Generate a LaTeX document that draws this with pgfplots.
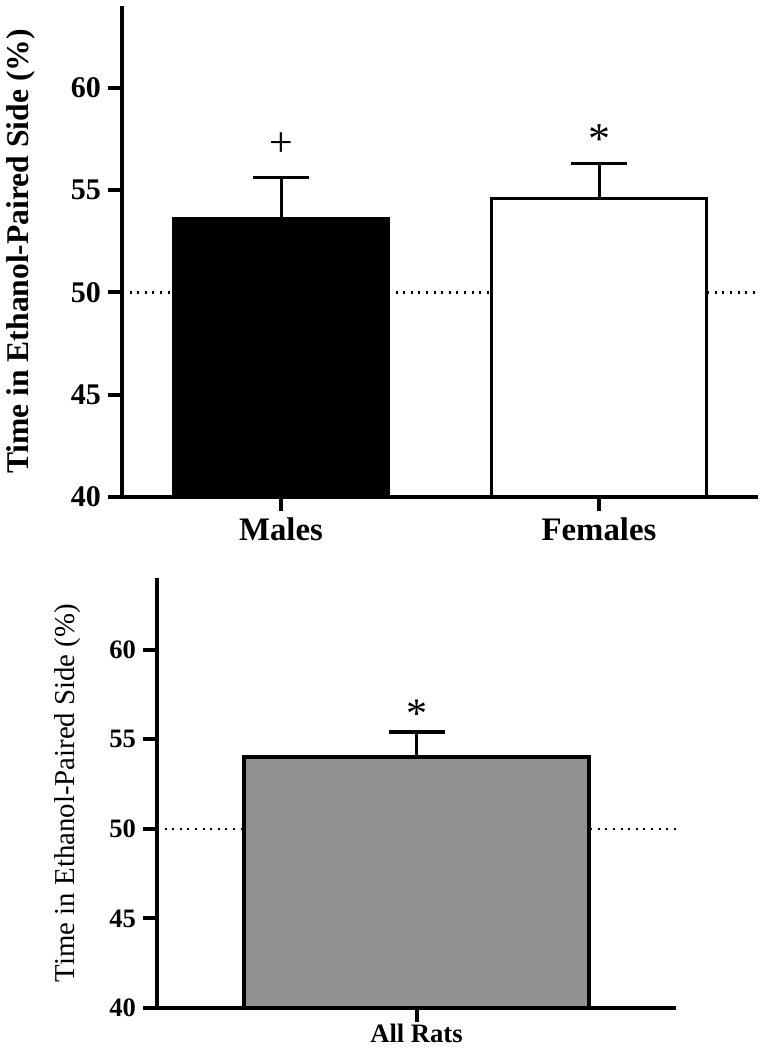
\documentclass[border=0pt]{standalone}
\usepackage{fontspec}
\setmainfont{Liberation Serif}
\usepackage{pgfplots}
\pgfplotsset{compat=1.18}

\pgfplotsset{
  ratbars/.style={
    scale only axis, ymin=40, ymax=64,
    axis x line=bottom, axis y line=left,
    axis line style={-, line width=2.2pt},
    ytick={40,45,50,55,60},
    tick align=outside, major tick length=7pt,
    tick style={line width=2pt, black},
    /pgf/number format/assume math mode=true,
    axis on top, clip mode=individual,
  },
  errs/.style={error bars/.cd, y dir=plus, y explicit,
    error bar style={line width=1.5pt, black},
    error mark options={rotate=90, line width=1.6pt, mark size=14pt, black}},
}

\begin{document}
\begin{tikzpicture}
\path[use as bounding box] (0,0) rectangle (381.5pt,-525pt);

% males vs females
\begin{axis}[ratbars,
  at={(61pt,-248.5pt)}, anchor=south west,
  width=318pt, height=245.5pt,
  xmin=-0.5, xmax=1.5,
  xtick={0,1}, xticklabels={Males,Females},
  yticklabel style={font=\bfseries\fontsize{15}{15}\selectfont},
  xticklabel style={font=\bfseries\fontsize{16.4}{16.4}\selectfont},
  ylabel={Time in Ethanol-Paired Side (\%)},
  ylabel style={font=\bfseries\fontsize{15.8}{15.8}\selectfont,
    at={(axis description cs:-0.159,0.5)}, anchor=center},
]
\addplot[black, line width=1.2pt, dash pattern=on 1pt off 2.8pt] coordinates {(-0.5,50) (1.5,50)};
\addplot[ybar, bar width=0.676, bar shift=0pt, fill=black, draw=black, line width=1.75pt, errs]
  coordinates {(0,53.6) +- (0,2.0)};
\addplot[ybar, bar width=0.676, bar shift=0pt, fill=white, draw=black, line width=1.75pt, errs]
  coordinates {(1,54.6) +- (0,1.7)};
\node[font=\fontsize{21}{21}\selectfont] at (axis cs:0,57.2) {+};
\node[font=\fontsize{22}{22}\selectfont] at (axis cs:1,57.5) {*};
\end{axis}

% all rats
\begin{axis}[ratbars,
  at={(78.5pt,-504pt)}, anchor=south west,
  width=259.5pt, height=215pt,
  xmin=-0.5, xmax=0.5,
  xtick={0}, xticklabels={All Rats},
  yticklabel style={font=\bfseries\fontsize{13.3}{13.3}\selectfont},
  xticklabel style={font=\bfseries\fontsize{13.3}{13.3}\selectfont, yshift=2.5pt},
  ylabel={Time in Ethanol-Paired Side (\%)},
  ylabel style={font=\fontsize{14.4}{14.4}\selectfont,
    at={(axis description cs:-0.173,0.5)}, anchor=center},
]
\addplot[black, line width=1.2pt, dash pattern=on 1pt off 2.8pt] coordinates {(-0.5,50) (0.5,50)};
\addplot[ybar, bar width=0.665, bar shift=0pt, fill=black!43, draw=black, line width=1.75pt, errs]
  coordinates {(0,54.0) +- (0,1.4)};
\node[font=\fontsize{21}{21}\selectfont] at (axis cs:0,56.4) {*};
\end{axis}
\end{tikzpicture}
\end{document}
